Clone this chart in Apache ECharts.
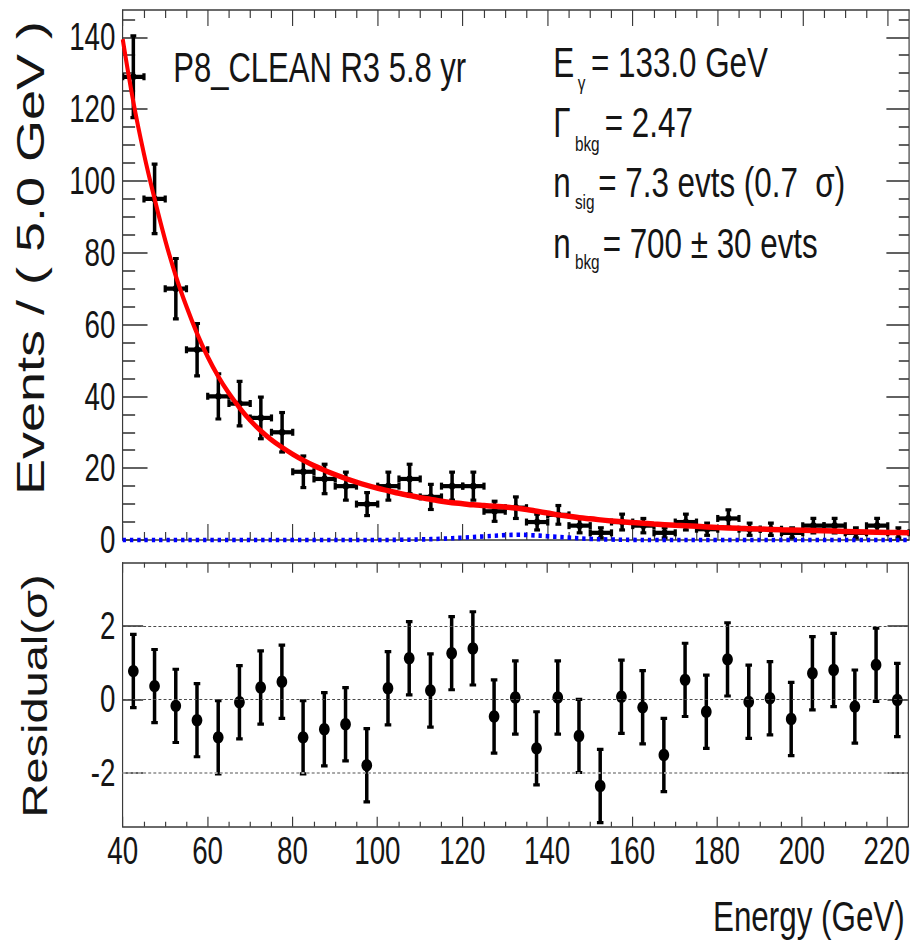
<!DOCTYPE html>
<html><head><meta charset="utf-8">
<script src="https://cdn.jsdelivr.net/npm/echarts@6/dist/echarts.min.js"></script>
<style>
html,body{margin:0;padding:0;background:#fff;overflow:hidden}
#wrap{width:912px;height:946px;overflow:hidden;position:relative;background:#fff}
#chart{width:1250px;height:946px;transform:scaleX(0.7296);transform-origin:0 0}
</style></head><body>
<div id="wrap"><div id="chart"></div></div>
<script>
// ---------------- data ----------------
const energies = [42.5,47.5,52.5,57.5,62.5,67.5,72.5,77.5,82.5,87.5,92.5,97.5,102.5,107.5,112.5,117.5,122.5,127.5,132.5,137.5,142.5,147.5,152.5,157.5,162.5,167.5,172.5,177.5,182.5,187.5,192.5,197.5,202.5,207.5,212.5,217.5,222.5];
const counts = [129,95,70,53,40,38,34,30,19,17,15,10,15,17,12,15,15,8,9,5,7,4,2,5,4,2,5,3,6,3,3,2,4,4,2,4,2];
const countErr = [11.4,9.7,8.4,7.3,6.3,6.2,5.8,5.5,4.4,4.1,3.9,3.2,3.9,4.1,3.5,3.9,3.9,2.8,3.0,2.2,2.6,2.0,1.4,2.2,2.0,1.4,2.2,1.7,2.4,1.7,1.7,1.4,2.0,2.0,1.4,2.0,1.4];
const residuals = [0.77,0.36,-0.18,-0.57,-1.04,-0.08,0.32,0.48,-1.04,-0.82,-0.68,-1.8,0.3,1.12,0.24,1.26,1.39,-0.47,0.05,-1.34,0.05,-1.0,-2.37,0.07,-0.22,-1.52,0.53,-0.34,1.09,-0.07,0.03,-0.54,0.71,0.8,-0.2,0.94,-0.02];
const residualErr = [1,1,1,1,1,1,1,1,1,1,1,1,1,1,1,1,1,1,1,1,1,1,1,1,1,1,1,1,1,1,1,1,1,1,1,1,1];
const binWidth = 5.0;

const fitE = [40,42.5,45,47.5,50,52.5,55,57.5,60,62.5,65,67.5,70,72.5,75,77.5,80,82.5,85,87.5,90,92.5,95,97.5,100,102.5,105,107.5,110,112.5,115,117.5,120,122.5,125,127.5,130,132.5,135,137.5,140,142.5,145,147.5,150,155,160,165,170,175,180,185,190,195,200,205,210,215,220,225];
const fitV = [139.5,122,107.5,95,83.5,73.5,65,57.5,51,45.5,40.8,36.8,33.3,30.4,27.9,25.8,23.9,22.2,20.7,19.4,18.2,17.1,16.1,15.2,14.4,13.7,13.0,12.4,11.8,11.3,10.8,10.4,10.1,9.8,9.6,9.4,9.2,8.9,8.5,8.0,7.5,7.0,6.6,6.2,5.9,5.3,4.85,4.45,4.1,3.8,3.5,3.25,3.05,2.85,2.7,2.55,2.4,2.25,2.1,2.0];

const sigE = [40,60,80,100,105,110,115,120,125,130,133,136,140,145,150,155,160,165,180,200,225];
const sigV = [0,0,0,0,0.05,0.15,0.35,0.65,1.0,1.35,1.45,1.35,1.05,0.65,0.3,0.12,0.03,0,0,0,0];

const xMajorTicks = [40,60,80,100,120,140,160,180,200,220];
const yMajorTicks = [0,20,40,60,80,100,120,140];
const resMajorTicks = [-2,0,2];

const yTitle = 'Events / ( 5.0 GeV )';
const resTitle = 'Residual(σ)';
const xTitle = 'Energy (GeV)';
const dataLabel = 'P8_CLEAN R3 5.8 yr';
const statLines = [
  ['E', 'γ', '= 133.0 GeV'],
  ['Γ', 'bkg', '= 2.47'],
  ['n', 'sig', '= 7.3 evts (0.7  σ)'],
  ['n', 'bkg', '= 700 ± 30 evts']
];

// ---------------- layout / style ----------------
const FONT = '"Liberation Sans", Arial, Helvetica, sans-serif';
const FRAME = '#3a3a3a';
const TXT = '#151515';
const X_MIN = 40, X_MAX = 225;
const Y_MIN = 0, Y_MAX = 147.6;
const R_MIN = -3.48, R_MAX = 3.73;

const xMinorTicks = [];
for (let v = X_MIN + 5; v < X_MAX; v += 5) if (v % 20 !== 0) xMinorTicks.push(v);
const yMinorTicks = [];
for (let v = 5; v < Y_MAX; v += 5) if (v % 20 !== 0) yMinorTicks.push(v);

const gTop = {left: 168.2, top: 10, width: 1077.7, height: 530, containLabel: false};
const gBot = {left: 168.2, top: 562.7, width: 1077.7, height: 264, containLabel: false};

function axis(o) {
  return {
    type: 'value',
    gridIndex: o.grid,
    position: o.pos,
    min: o.min, max: o.max,
    axisLine: {show: !!o.line, onZero: false, lineStyle: {color: FRAME, width: 1.6}},
    axisTick: {show: true, inside: true, length: o.len, customValues: o.ticks, lineStyle: {color: FRAME, width: 1.6}},
    axisLabel: o.labels ? {show: true, customValues: o.ticks, fontFamily: FONT, fontSize: 38, color: TXT, margin: o.margin} : {show: false},
    splitLine: {show: false},
    minorTick: {show: false}
  };
}

const xAxes = [
  axis({grid:0,pos:'bottom',min:X_MIN,max:X_MAX,line:true,len:16,ticks:xMajorTicks}),
  axis({grid:0,pos:'top',min:X_MIN,max:X_MAX,line:true,len:16,ticks:xMajorTicks}),
  axis({grid:1,pos:'bottom',min:X_MIN,max:X_MAX,len:8,ticks:xMinorTicks}),
  axis({grid:1,pos:'top',min:X_MIN,max:X_MAX,len:8,ticks:xMinorTicks}),
  axis({grid:2,pos:'bottom',min:X_MIN,max:X_MAX,line:true,len:10,ticks:xMajorTicks,labels:true,margin:5}),
  axis({grid:2,pos:'top',min:X_MIN,max:X_MAX,line:true,len:10,ticks:xMajorTicks}),
  axis({grid:3,pos:'bottom',min:X_MIN,max:X_MAX,len:5,ticks:xMinorTicks}),
  axis({grid:3,pos:'top',min:X_MIN,max:X_MAX,len:5,ticks:xMinorTicks})
];
const yAxes = [
  axis({grid:0,pos:'left',min:Y_MIN,max:Y_MAX,line:true,len:34,ticks:yMajorTicks,labels:true,margin:10}),
  axis({grid:0,pos:'right',min:Y_MIN,max:Y_MAX,line:true,len:31,ticks:yMajorTicks}),
  axis({grid:1,pos:'left',min:Y_MIN,max:Y_MAX,len:17,ticks:yMinorTicks}),
  axis({grid:1,pos:'right',min:Y_MIN,max:Y_MAX,len:14,ticks:yMinorTicks}),
  axis({grid:2,pos:'left',min:R_MIN,max:R_MAX,line:true,len:28,ticks:resMajorTicks,labels:true,margin:10}),
  axis({grid:2,pos:'right',min:R_MIN,max:R_MAX,line:true,len:28,ticks:resMajorTicks}),
  Object.assign(axis({grid:3,pos:'left',min:R_MIN,max:R_MAX,len:0,ticks:[]}), {show:false})
];

function renderCounts(params, api) {
  const e = api.value(0), v = api.value(1), er = api.value(2);
  const c = api.coord([e, v]);
  const l = api.coord([e - binWidth / 2, v]);
  const r = api.coord([e + binWidth / 2, v]);
  const t = api.coord([e, v + er]);
  const b = api.coord([e, v - er]);
  const st = {stroke: '#000', lineWidth: 4.2};
  const sv = {stroke: '#000', lineWidth: 4.8};
  return {type: 'group', children: [
    {type:'line', shape:{x1:l[0],y1:l[1],x2:r[0],y2:r[1]}, style:st},
    {type:'line', shape:{x1:c[0],y1:t[1],x2:c[0],y2:b[1]}, style:sv},
    {type:'line', shape:{x1:c[0]-4,y1:t[1],x2:c[0]+4,y2:t[1]}, style:{stroke:'#000',lineWidth:3.2}},
    {type:'line', shape:{x1:c[0]-4,y1:b[1],x2:c[0]+4,y2:b[1]}, style:{stroke:'#000',lineWidth:3.2}},
    {type:'line', shape:{x1:l[0],y1:l[1]-3.5,x2:l[0],y2:l[1]+3.5}, style:{stroke:'#000',lineWidth:4.4}},
    {type:'line', shape:{x1:r[0],y1:r[1]-3.5,x2:r[0],y2:r[1]+3.5}, style:{stroke:'#000',lineWidth:4.4}},
    {type:'ellipse', shape:{cx:c[0],cy:c[1],rx:4.6,ry:3.6}, style:{fill:'#000'}}
  ]};
}

function renderResiduals(params, api) {
  const e = api.value(0), v = api.value(1), er = api.value(2);
  const c = api.coord([e, v]);
  const t = api.coord([e, v + er]);
  const b = api.coord([e, v - er]);
  return {type: 'group', children: [
    {type:'line', shape:{x1:c[0],y1:t[1],x2:c[0],y2:b[1]}, style:{stroke:'#000',lineWidth:4.8}},
    {type:'line', shape:{x1:c[0]-4.5,y1:t[1],x2:c[0]+4.5,y2:t[1]}, style:{stroke:'#000',lineWidth:3.2}},
    {type:'line', shape:{x1:c[0]-4.5,y1:b[1],x2:c[0]+4.5,y2:b[1]}, style:{stroke:'#000',lineWidth:3.2}},
    {type:'ellipse', shape:{cx:c[0],cy:c[1],rx:7.3,ry:6.2}, style:{fill:'#000'}}
  ]};
}

const graphics = [
  {type:'text', x:41, y:258, rotation:Math.PI/2, style:{text:yTitle, fontFamily:FONT, fontSize:54, fill:TXT, align:'center', verticalAlign:'middle'}},
  {type:'text', x:48, y:696, rotation:Math.PI/2, style:{text:resTitle, fontFamily:FONT, fontSize:47, fill:TXT, align:'center', verticalAlign:'middle'}},
  {type:'text', x:1240, y:916, style:{text:xTitle, fontFamily:FONT, fontSize:43, fill:TXT, align:'right', verticalAlign:'middle'}},
  {type:'text', x:237.5, y:66.7, style:{text:dataLabel, fontFamily:FONT, fontSize:42.5, fill:TXT, align:'left', verticalAlign:'middle'}}
];
const lineY = [62, 122.3, 182.6, 243];
const subY = [83, 144, 202, 262];
const subX = [792, 788, 788, 788];
const restX = [810, 829, 820, 826];
statLines.forEach((ln, i) => {
  graphics.push({type:'text', x:758.4, y:lineY[i], style:{text:ln[0], fontFamily:FONT, fontSize:43, fill:TXT, align:'left', verticalAlign:'middle'}});
  graphics.push({type:'text', x:subX[i], y:subY[i], style:{text:ln[1], fontFamily:FONT, fontSize:21, fill:TXT, align:'left', verticalAlign:'middle'}});
  graphics.push({type:'text', x:restX[i], y:lineY[i], style:{text:ln[2], fontFamily:FONT, fontSize:43, fill:TXT, align:'left', verticalAlign:'middle'}});
});

const option = {
  animation: false,
  backgroundColor: '#fff',
  grid: [gTop, Object.assign({}, gTop), gBot, Object.assign({}, gBot)],
  xAxis: xAxes,
  yAxis: yAxes,
  series: [
    {
      type: 'custom', name: 'data', xAxisIndex: 0, yAxisIndex: 0, clip: true, z: 3,
      renderItem: renderCounts,
      encode: {x: 0, y: 1},
      data: energies.map((e, i) => [e, counts[i], countErr[i]])
    },
    {
      type: 'line', name: 'signal', xAxisIndex: 0, yAxisIndex: 0, z: 4,
      smooth: 0.4, showSymbol: false, symbol: 'none', clip: false,
      lineStyle: {color: '#0000ff', width: 4.6, type: [4.6, 5.4]},
      data: sigE.map((e, i) => [e, sigV[i]])
    },
    {
      type: 'line', name: 'fit', xAxisIndex: 0, yAxisIndex: 0, z: 5,
      smooth: 0.4, showSymbol: false, symbol: 'none', clip: true,
      lineStyle: {color: '#ff0000', width: 5.5},
      data: fitE.map((e, i) => [e, fitV[i]])
    },
    {
      type: 'custom', name: 'residual', xAxisIndex: 4, yAxisIndex: 4, clip: true, z: 3,
      renderItem: renderResiduals,
      encode: {x: 0, y: 1},
      data: energies.map((e, i) => [e, residuals[i], residualErr[i]]),
      markLine: {
        silent: true, symbol: ['none', 'none'], label: {show: false}, animation: false,
        lineStyle: {color: '#4a4a4a', width: 1.2, type: [4, 3]},
        data: [
          {yAxis: 2},
          {yAxis: 0},
          {yAxis: -2, lineStyle: {color: '#a8a8a8', width: 2, type: [4, 3]}}
        ]
      }
    }
  ],
  graphic: graphics
};

const chart = echarts.init(document.getElementById('chart'), null, {renderer: 'svg'});
chart.setOption(option);
</script></body></html>
